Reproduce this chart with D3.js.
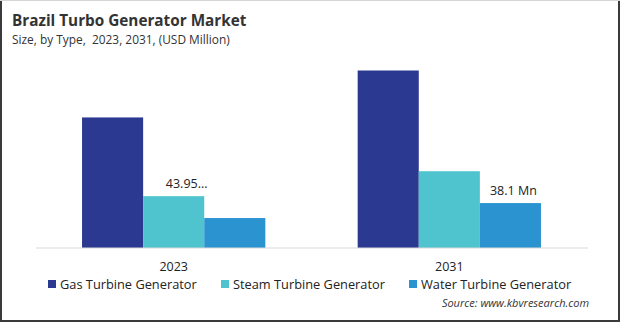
<!DOCTYPE html>
<html lang="en">
<head>
    <meta charset="UTF-8">
    <script src="https://d3js.org/d3.v7.min.js"></script>
    <title>Brazil Turbo Generator Market</title>
    <style>
        body {
            margin: 0;
            background: #fff;
        }
        svg {
            display: block;
            font-family: 'Open Sans', 'Noto Sans', sans-serif;
        }
    </style>
</head>
<body>
    <svg width="620" height="322"></svg>
    <script>
        // chart data
        const years = ['2023', '2031'];
        const types = ['Gas Turbine Generator', 'Steam Turbine Generator', 'Water Turbine Generator'];
        const gasValues = [110.7, 150.5];
        const steamValues = [43.95, 65.1];
        const waterValues = [25.4, 38.1];
        // value labels shown over bars: [year index, type index, text]
        const barLabels = [[0, 1, '43.95...'], [1, 2, '38.1 Mn']];

        const colors = ['#2b3990', '#4fc4cf', '#2b93d0'];

        const width = 620;
        const height = 322;
        const margin = { top: 40, bottom: 74, left: 36, right: 33 };
        const baseline = height - margin.bottom;

        const series = [gasValues, steamValues, waterValues];
        const rows = years.map((y, i) => ({ year: y, values: series.map(s => s[i]) }));

        const svg = d3.select('svg');

        // frame
        svg.append('line').attr('x1', 1).attr('x2', 1).attr('y1', 0).attr('y2', height)
            .attr('stroke', '#3a3a3a').attr('stroke-width', 2);
        svg.append('line').attr('x1', width - 1).attr('x2', width - 1).attr('y1', 0).attr('y2', height)
            .attr('stroke', '#3a3a3a').attr('stroke-width', 2);
        svg.append('line').attr('x1', 0).attr('x2', width).attr('y1', height - 1).attr('y2', height - 1)
            .attr('stroke', '#3a3a3a').attr('stroke-width', 2);
        svg.append('line').attr('x1', 0).attr('x2', width).attr('y1', 0.5).attr('y2', 0.5)
            .attr('stroke', '#d6d6d6').attr('stroke-width', 1);

        // title
        svg.append('text')
            .attr('x', 12).attr('y', 26)
            .attr('font-size', 15.3).attr('font-weight', 'bold').attr('fill', '#333')
            .text('Brazil Turbo Generator Market');
        svg.append('text')
            .attr('x', 12).attr('y', 44)
            .attr('font-size', 11.9).attr('fill', '#333')
            .style('white-space', 'pre')
            .text('Size, by Type,  2023, 2031, (USD Million)');

        // scales
        const x0 = d3.scaleBand()
            .domain(years)
            .range([margin.left, width - margin.right])
            .paddingInner(0.335)
            .paddingOuter(0.167);

        const x1 = d3.scaleBand()
            .domain(d3.range(types.length))
            .range([0, x0.bandwidth()]);

        const y = d3.scaleLinear()
            .domain([0, 150.5])
            .range([baseline, baseline - 177.5]);

        // bars
        const groups = svg.selectAll('g.year')
            .data(rows)
            .enter().append('g')
            .attr('class', 'year')
            .attr('transform', d => `translate(${x0(d.year)},0)`);

        groups.selectAll('rect')
            .data(d => d.values)
            .enter().append('rect')
            .attr('x', (d, i) => x1(i))
            .attr('y', d => y(d))
            .attr('width', x1.bandwidth())
            .attr('height', d => baseline - y(d))
            .attr('fill', (d, i) => colors[i]);

        // value labels (the truncated one sits a bit right of its bar centre)
        const labelShift = [13, 3];
        svg.selectAll('text.val')
            .data(barLabels)
            .enter().append('text')
            .attr('class', 'val')
            .attr('x', (d, i) => x0(years[d[0]]) + x1(d[1]) + x1.bandwidth() / 2 + labelShift[i])
            .attr('y', d => y(series[d[1]][d[0]]) - 8)
            .attr('text-anchor', 'middle')
            .attr('font-size', 12.5).attr('fill', '#222')
            .text(d => d[2]);

        // x axis
        const xAxis = d3.axisBottom(x0).tickSize(0).tickPadding(14);
        const axisG = svg.append('g')
            .attr('transform', `translate(0,${baseline})`)
            .call(xAxis);
        axisG.select('.domain').remove();
        axisG.append('line')
            .attr('x1', margin.left).attr('x2', 588)
            .attr('stroke', '#d9d9d9').attr('stroke-width', 1);
        axisG.selectAll('.tick text')
            .attr('font-size', 12.5).attr('fill', '#222')
            .attr('font-family', "'Open Sans', 'Noto Sans', sans-serif");

        // legend
        const legendX = [48, 221, 409];
        const legend = svg.selectAll('g.legend')
            .data(types)
            .enter().append('g')
            .attr('class', 'legend')
            .attr('transform', (d, i) => `translate(${legendX[i]},284)`);
        legend.append('rect')
            .attr('x', 0).attr('y', -4).attr('width', 8).attr('height', 8)
            .attr('fill', (d, i) => colors[i]);
        legend.append('text')
            .attr('x', 12).attr('y', 4.5)
            .attr('font-size', 12.8).attr('fill', '#222')
            .text(d => d);

        // source
        svg.append('text')
            .attr('x', 589).attr('y', 307)
            .attr('text-anchor', 'end')
            .attr('font-size', 11).attr('font-style', 'italic').attr('fill', '#333')
            .text('Source: www.kbvresearch.com');
    </script>
</body>
</html>
